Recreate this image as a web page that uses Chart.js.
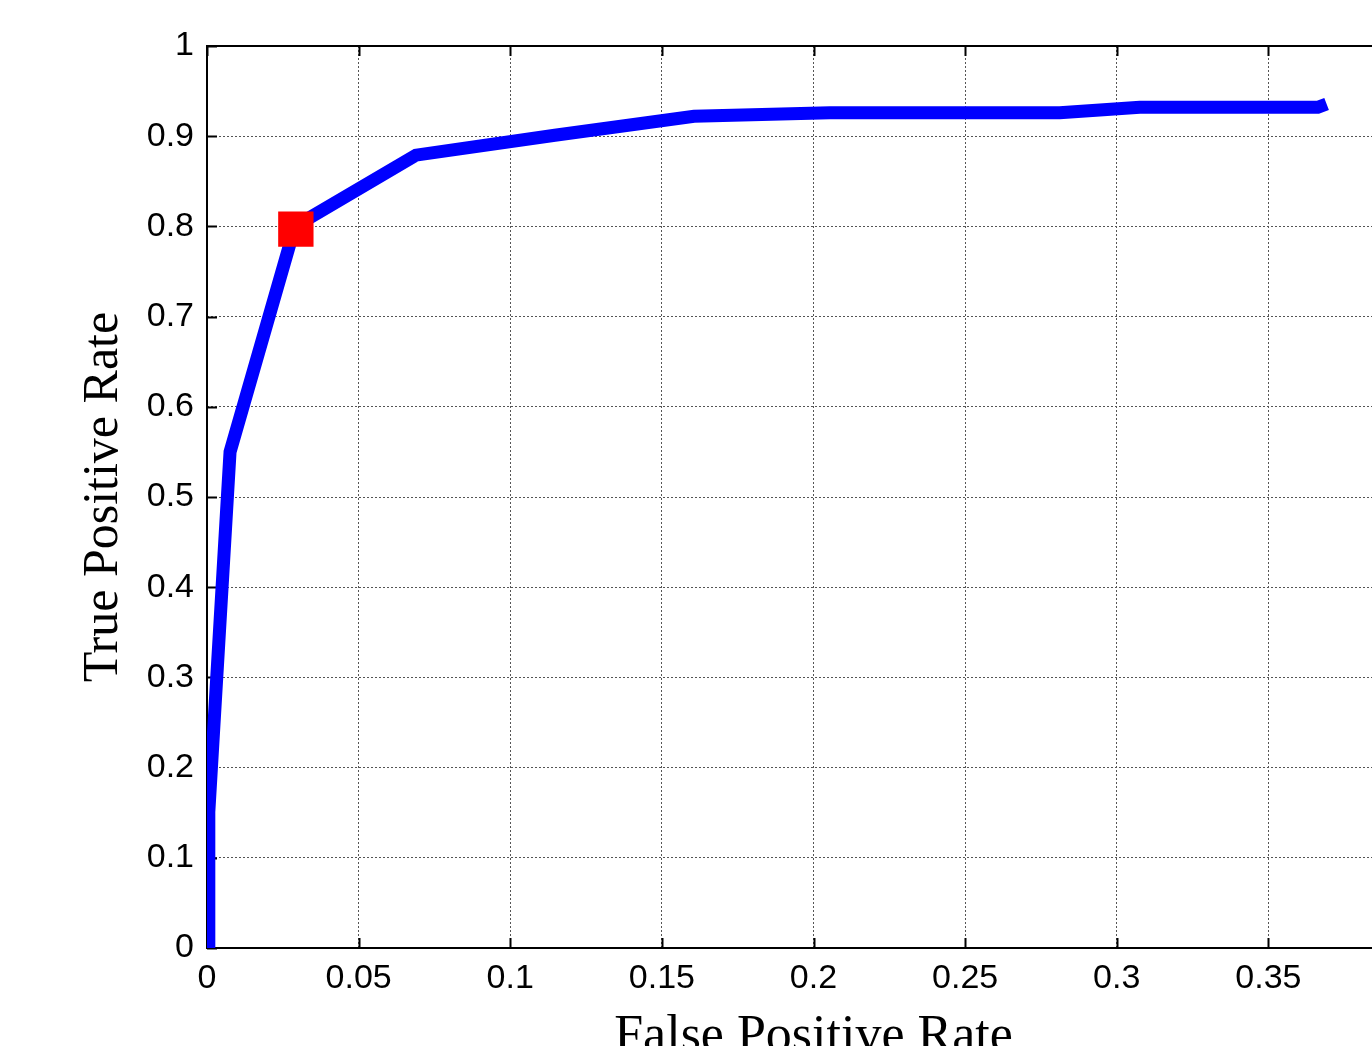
<!DOCTYPE html>
<html>
<head>
<meta charset="utf-8">
<title>ROC curve</title>
<script src="https://cdn.jsdelivr.net/npm/chart.js@4.4.1/dist/chart.umd.min.js"></script>
<style>
    html, body { margin: 0; padding: 0; background: #ffffff; overflow: hidden; }
    #wrap { width: 1460px; height: 1080px; }
</style>
</head>
<body>
<div id="wrap"><canvas id="rocChart" width="1460" height="1080"></canvas></div>
<script>
// ROC curve
const fpr = [0.0006, 0.0006, 0.0076, 0.029, 0.0689, 0.1147, 0.1606, 0.2054, 0.2812, 0.3076, 0.3663, 0.3692];
const tpr = [0, 0.151, 0.55, 0.8, 0.879, 0.901, 0.922, 0.926, 0.926, 0.932, 0.932, 0.9357];

// operating point (red square)
const opFpr = [0.0293];
const opTpr = [0.797];

const xTickLabels = ['0', '0.05', '0.1', '0.15', '0.2', '0.25', '0.3', '0.35', '0.4'];
const yTickLabels = ['0', '0.1', '0.2', '0.3', '0.4', '0.5', '0.6', '0.7', '0.8', '0.9', '1'];

const tickFont = { family: '"Liberation Sans", Arial, sans-serif', size: 34 };

// box around the plot and the small inward tick marks (matlab style)
const boxPlugin = {
    id: 'matlabBox',
    beforeDatasetsDraw(chart) {
        const ctx = chart.ctx;
        const a = chart.chartArea;
        const xs = chart.scales.x;
        const ys = chart.scales.y;
        ctx.save();
        ctx.strokeStyle = '#000000';
        ctx.lineWidth = 2;
        ctx.strokeRect(a.left, a.top, a.right - a.left, a.bottom - a.top);
        ctx.beginPath();
        xs.ticks.forEach(t => {
            const px = Math.round(xs.getPixelForValue(t.value)) + 0.5;
            ctx.moveTo(px, a.bottom);
            ctx.lineTo(px, a.bottom - 10);
            ctx.moveTo(px, a.top);
            ctx.lineTo(px, a.top + 10);
        });
        ys.ticks.forEach(t => {
            const py = Math.round(ys.getPixelForValue(t.value)) + 0.5;
            ctx.moveTo(a.left, py);
            ctx.lineTo(a.left + 10, py);
        });
        ctx.stroke();
        ctx.restore();
    }
};

new Chart(document.getElementById('rocChart').getContext('2d'), {
    type: 'scatter',
    data: {
        datasets: [{
            label: 'Operating point',
            data: opFpr.map((v, i) => ({ x: v, y: opTpr[i] })),
            pointStyle: 'rect',
            pointRadius: 25,
            pointBackgroundColor: '#ff0000',
            pointBorderWidth: 0,
            order: 0
        }, {
            label: 'ROC',
            data: fpr.map((v, i) => ({ x: v, y: tpr[i] })),
            showLine: true,
            borderColor: '#0000ff',
            borderWidth: 13,
            pointRadius: 0,
            tension: 0,
            order: 1
        }]
    },
    options: {
        responsive: false,
        animation: false,
        layout: { padding: { left: 0, top: 46, right: 40, bottom: 0 } },
        plugins: {
            legend: { display: false },
            tooltip: { enabled: false }
        },
        scales: {
            x: {
                type: 'linear',
                min: 0,
                max: 0.4,
                afterFit: scale => { scale.height = 132; },
                ticks: {
                    stepSize: 0.05,
                    padding: 10,
                    color: '#000000',
                    font: tickFont,
                    maxRotation: 0,
                    autoSkip: false,
                    callback: (val, i) => xTickLabels[i]
                },
                grid: { color: '#555555', lineWidth: 1, drawTicks: false },
                border: { display: false, dash: [2, 2] },
                title: {
                    display: true,
                    text: 'False Positive Rate',
                    color: '#000000',
                    font: { family: '"Liberation Serif", "Times New Roman", serif', size: 52 },
                    padding: { top: 0, bottom: 11 }
                }
            },
            y: {
                type: 'linear',
                min: 0,
                max: 1,
                afterFit: scale => { scale.width = 207; },
                ticks: {
                    stepSize: 0.1,
                    padding: 13,
                    color: '#000000',
                    font: tickFont,
                    autoSkip: false,
                    callback: (val, i) => yTickLabels[i]
                },
                grid: { color: '#555555', lineWidth: 1, drawTicks: false },
                border: { display: false, dash: [2, 2] },
                title: {
                    display: true,
                    text: 'True Positive Rate',
                    color: '#000000',
                    font: { family: '"Liberation Serif", "Times New Roman", serif', size: 50 },
                    padding: { top: 74, bottom: 0 }
                }
            }
        }
    },
    plugins: [boxPlugin]
});
</script>
</body>
</html>
